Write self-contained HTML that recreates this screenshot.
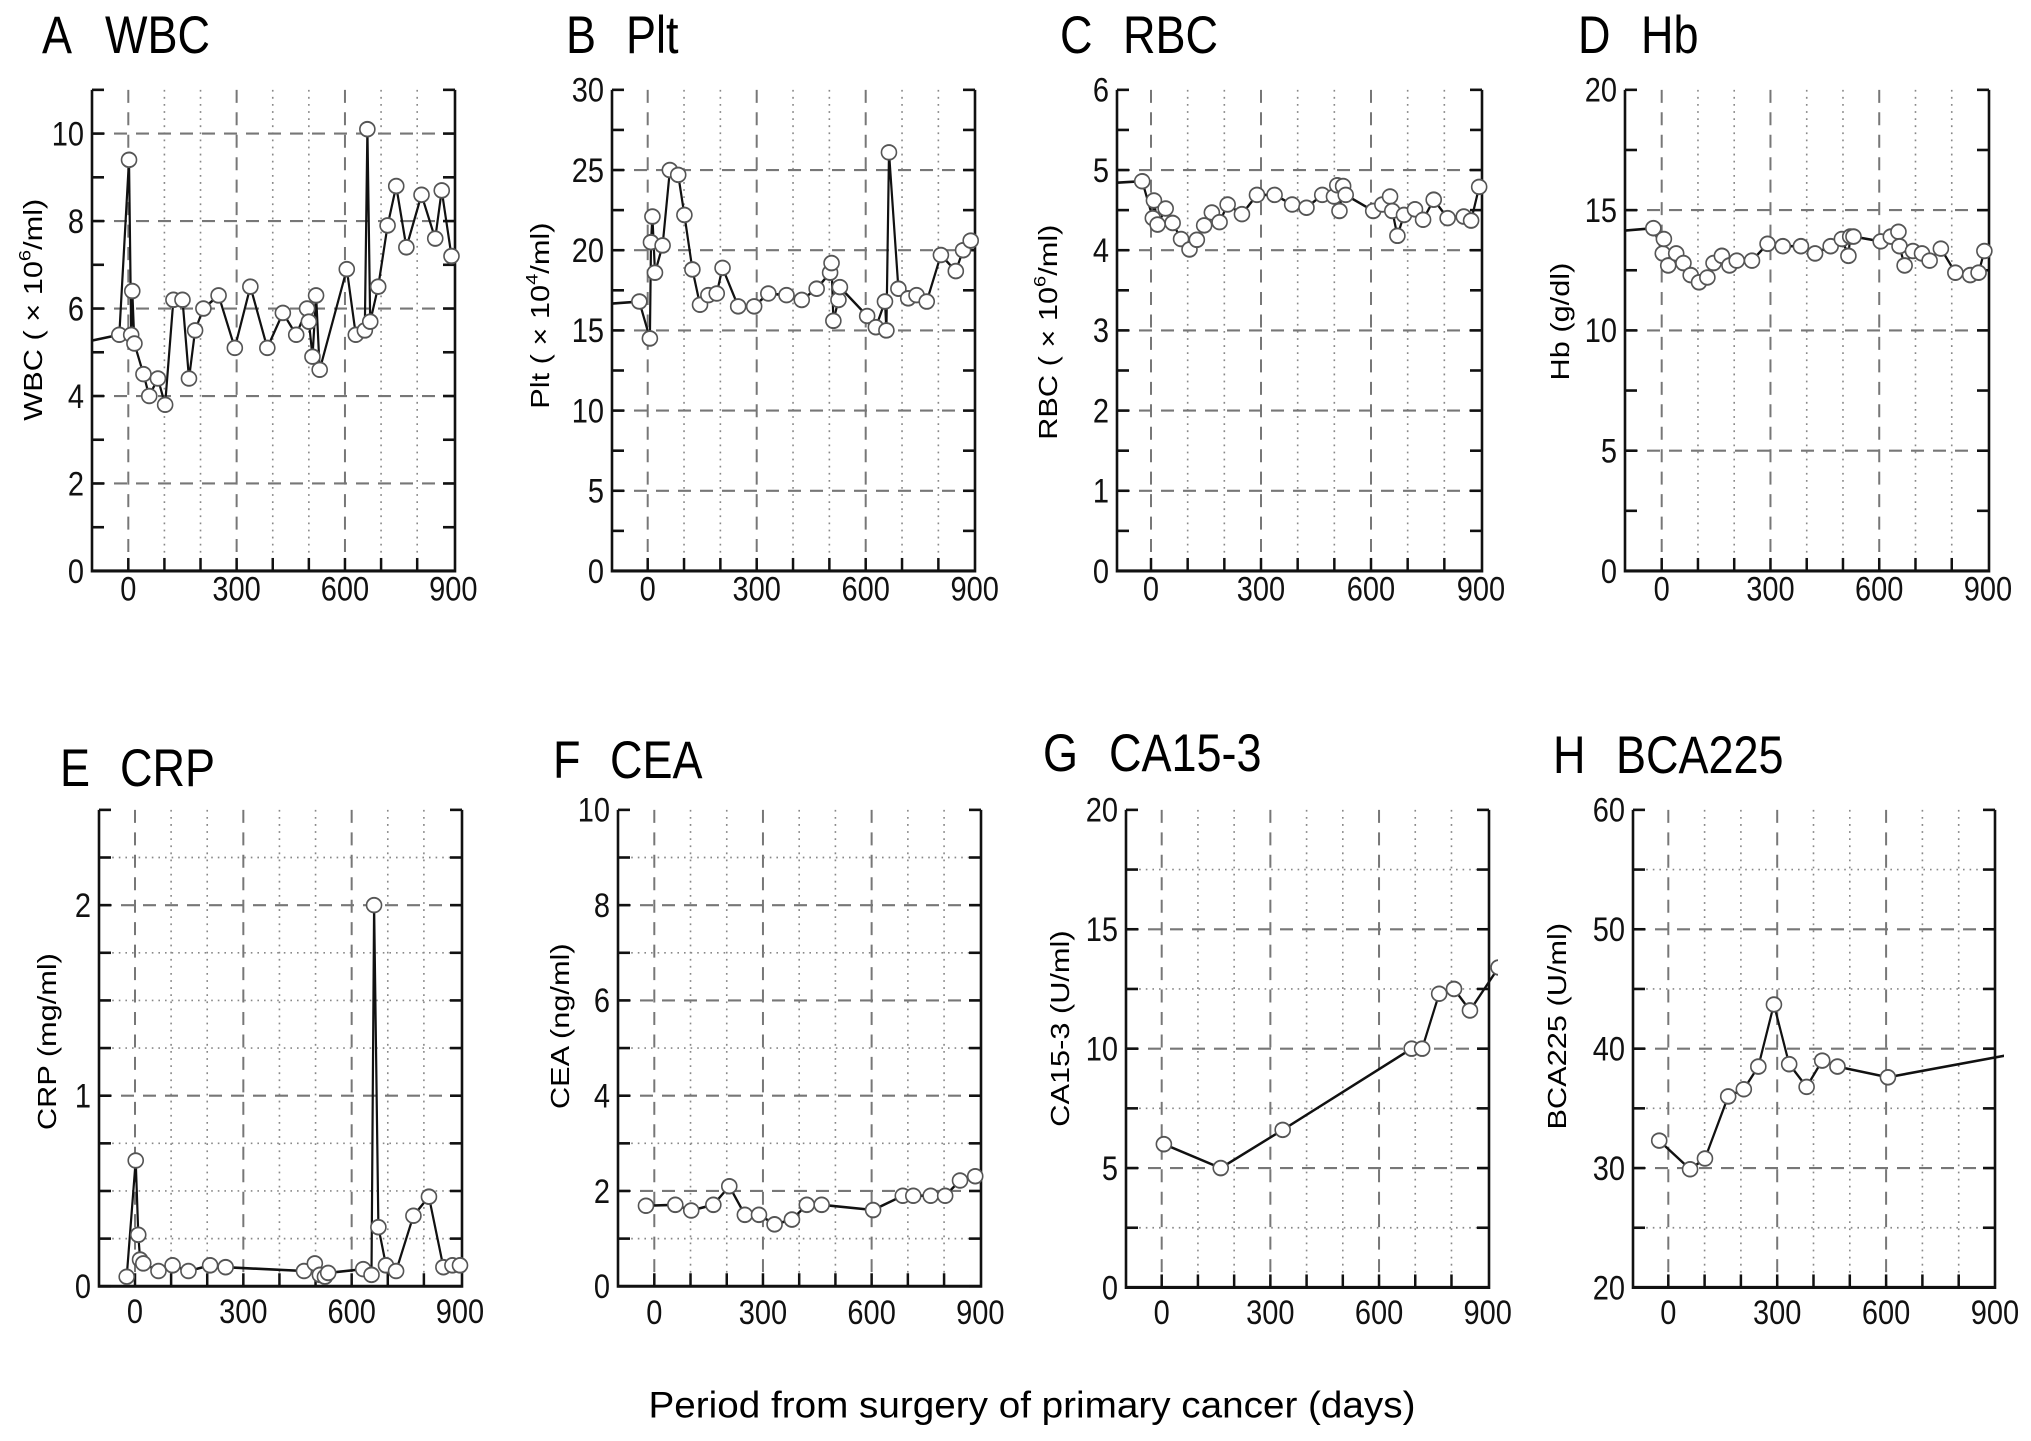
<!DOCTYPE html>
<html><head><meta charset="utf-8"><style>
html,body{margin:0;padding:0;background:#fff;}
svg{display:block;font-family:"Liberation Sans",Arial,sans-serif;}
</style></head><body>
<svg id="fig" width="2031" height="1441" viewBox="0 0 2031 1219" preserveAspectRatio="none" xmlns="http://www.w3.org/2000/svg">
<text x="1032" y="1199" font-size="31" text-anchor="middle" textLength="767" lengthAdjust="spacingAndGlyphs">Period from surgery of primary cancer (days)</text>
</svg>
<script>
// ---- data (days from surgery, values) ----
const wbcDays = [-140,-25,2,8,11,17,42,58,82,102,125,150,168,185,208,250,295,338,385,428,465,495,500,510,520,530,605,630,655,662,670,692,718,742,770,812,850,868,895];
const wbcValues = [5.2,5.4,9.4,5.4,6.4,5.2,4.5,4.0,4.4,3.8,6.2,6.2,4.4,5.5,6.0,6.3,5.1,6.5,5.1,5.9,5.4,6.0,5.7,4.9,6.3,4.6,6.9,5.4,5.5,10.1,5.7,6.5,7.9,8.8,7.4,8.6,7.6,8.7,7.2];
const pltDays = [-140,-23,6,9,13,20,41,61,84,101,123,144,167,190,206,249,293,332,382,424,465,502,506,511,525,529,604,628,653,657,664,690,717,740,768,807,848,868,889];
const pltValues = [16.6,16.8,14.5,20.5,22.1,18.6,20.3,25.0,24.7,22.2,18.8,16.6,17.2,17.3,18.9,16.5,16.5,17.3,17.2,16.9,17.6,18.6,19.2,15.6,16.9,17.7,15.9,15.2,16.8,15.0,26.1,17.6,17.0,17.2,16.8,19.7,18.7,20.0,20.6];
const rbcDays = [-140,-24,5,8,18,40,59,82,105,125,145,166,187,209,248,289,337,385,424,467,499,508,514,524,531,606,631,652,658,672,690,720,742,771,809,853,873,895];
const rbcValues = [4.83,4.86,4.40,4.62,4.32,4.52,4.34,4.14,4.01,4.13,4.31,4.47,4.35,4.57,4.45,4.69,4.69,4.57,4.53,4.69,4.67,4.81,4.49,4.80,4.69,4.49,4.57,4.67,4.49,4.18,4.44,4.51,4.38,4.63,4.40,4.42,4.37,4.79];
const hbDays = [-140,-23,3,6,18,40,60,80,103,126,143,166,187,207,249,292,334,384,423,466,497,515,520,529,604,632,653,656,670,693,718,739,770,810,851,874,890];
const hbValues = [14.1,14.25,13.2,13.8,12.7,13.2,12.8,12.3,12.0,12.2,12.8,13.1,12.7,12.9,12.9,13.6,13.5,13.5,13.2,13.5,13.8,13.1,13.9,13.9,13.7,13.9,14.1,13.5,12.7,13.3,13.2,12.9,13.4,12.4,12.3,12.4,13.3];
const crpDays = [-23,2,9,14,23,65,104,148,208,251,468,498,512,526,535,632,655,662,674,695,723,771,814,854,879,900];
const crpValues = [0.05,0.66,0.27,0.14,0.12,0.08,0.11,0.08,0.11,0.10,0.08,0.12,0.06,0.05,0.07,0.09,0.06,2.0,0.31,0.11,0.08,0.37,0.47,0.10,0.11,0.11];
const ceaDays = [-23,58,102,163,207,250,289,332,380,421,462,604,686,715,763,803,844,886];
const ceaValues = [1.69,1.71,1.59,1.71,2.10,1.50,1.50,1.30,1.40,1.71,1.71,1.60,1.90,1.90,1.90,1.90,2.22,2.31];
const caDays = [6,163,334,690,719,766,807,851,930];
const caValues = [6.0,5.0,6.6,10.0,10.0,12.3,12.5,11.6,13.4];
const bcaDays = [-25,60,101,165,208,248,291,333,381,424,466,605,960];
const bcaValues = [32.3,29.9,30.8,36.0,36.6,38.5,43.7,38.7,36.8,39.0,38.5,37.6,39.6];
// ---- tick labels ----
const xTickLabels = [0,300,600,900];
const wbcTicks = [0,2,4,6,8,10];
const pltTicks = [0,5,10,15,20,25,30];
const rbcTicks = [0,1,2,3,4,5,6];
const hbTicks = [0,5,10,15,20];
const crpTicks = [0,1,2];
const ceaTicks = [0,2,4,6,8,10];
const caTicks = [0,5,10,15,20];
const bcaTicks = [20,30,40,50,60];

const NS = "http://www.w3.org/2000/svg";
const svg = document.getElementById('fig');
function mk(tag, attrs, parent){
  const e = document.createElementNS(NS, tag);
  for (const k in attrs) e.setAttribute(k, attrs[k]);
  (parent||svg).appendChild(e);
  return e;
}

const R2 = 609.1;
const panels = [
 {id:'wbc', letter:'A', name:'WBC', lx:42, nx:105, ty:45, left:92, right:455, top:76, bottom:483, x0:128.3, x900:453.3, ymin:0, ymax:11, minor:1, dotted:false, labels:wbcTicks, days:wbcDays, vals:wbcValues, tcx:34, tcy:262, title:['WBC ( × 10','6','/ml)'], xly:508},
 {id:'plt', letter:'B', name:'Plt', lx:566, nx:626, ty:45, left:612, right:975, top:76, bottom:483, x0:647.7, x900:974.7, ymin:0, ymax:30, minor:2.5, dotted:false, labels:pltTicks, days:pltDays, vals:pltValues, tcx:541, tcy:267, title:['Plt ( × 10','4','/ml)'], xly:508},
 {id:'rbc', letter:'C', name:'RBC', lx:1060, nx:1123, ty:45, left:1117, right:1482, top:76, bottom:483, x0:1151, x900:1481, ymin:0, ymax:6, minor:0.5, dotted:false, labels:rbcTicks, days:rbcDays, vals:rbcValues, tcx:1049, tcy:281, title:['RBC ( × 10','6','/ml)'], xly:508},
 {id:'hb', letter:'D', name:'Hb', lx:1578, nx:1641, ty:45, left:1625, right:1989, top:76, bottom:483, x0:1661.7, x900:1988, ymin:0, ymax:20, minor:2.5, dotted:false, labels:hbTicks, days:hbDays, vals:hbValues, tcx:1561, tcy:272, title:['Hb (g/dl)'], xly:508},
 {id:'crp', letter:'E', name:'CRP', lx:60, nx:120, ty:R2+56, left:99, right:462, top:R2+76, bottom:R2+479, x0:135, x900:460, ymin:0, ymax:2.5, minor:0.25, dotted:true, labels:crpTicks, days:crpDays, vals:crpValues, tcx:48, tcy:R2+272, title:['CRP (mg/ml)'], xly:R2+510},
 {id:'cea', letter:'F', name:'CEA', lx:553, nx:610, ty:R2+49, left:618, right:981, top:R2+76, bottom:R2+479, x0:654.3, x900:980.3, ymin:0, ymax:10, minor:1, dotted:true, labels:ceaTicks, days:ceaDays, vals:ceaValues, tcx:561, tcy:R2+259, title:['CEA (ng/ml)'], xly:R2+511},
 {id:'ca153', letter:'G', name:'CA15-3', lx:1043, nx:1109, ty:R2+43, left:1126, right:1489, top:R2+76, bottom:R2+480, x0:1161.7, x900:1487.7, ymin:0, ymax:20, minor:2.5, dotted:true, labels:caTicks, days:caDays, vals:caValues, tcx:1061, tcy:R2+261, title:['CA15-3 (U/ml)'], xly:R2+511},
 {id:'bca225', letter:'H', name:'BCA225', lx:1553, nx:1616, ty:R2+45, left:1633, right:1995, top:R2+76, bottom:R2+480, x0:1668.3, x900:1995, ymin:20, ymax:60, minor:5, dotted:true, labels:bcaTicks, days:bcaDays, vals:bcaValues, tcx:1558, tcy:R2+259, title:['BCA225 (U/ml)'], xly:R2+511}
];

panels.forEach(p => {
  const g = mk('g', {});
  
  
  const sx = d => p.x0 + d * (p.x900 - p.x0) / 900;
  const sy = v => p.bottom - (v - p.ymin) / (p.ymax - p.ymin) * (p.bottom - p.top);

  const t1 = mk('text', {x:p.lx, y:p.ty, 'font-size':45}, g);
  t1.textContent = p.letter;
  
  
  const t2 = mk('text', {x:p.nx, y:p.ty, 'font-size':45}, g);
  t2.textContent = p.name;
  
  

  for (let d = 0; d <= 800; d += 100) {
    const x = sx(d);
    const dashed = d % 300 === 0;
    const l = mk('line', {x1:x, x2:x, y1:p.top, y2:p.bottom, stroke: dashed ? '#777' : '#888', 'stroke-width': dashed ? 2 : 1.6, 'stroke-dasharray': dashed ? '11 8' : '1.5 4.5'}, g);
    
    
    const tk = mk('line', {x1:x, x2:x, y1:p.bottom, y2:p.bottom - 11, stroke:'#111', 'stroke-width':2.5}, g);
    
    
  }
  const n = Math.round((p.ymax - p.ymin) / p.minor);
  for (let i = 0; i <= n; i++) {
    const v = p.ymin + i * p.minor;
    const y = sy(v);
    const isLabel = p.labels.some(l => Math.abs(l - v) < 1e-6);
    if (i > 0 && i < n && (isLabel || p.dotted)) {
      const l = mk('line', {x1:p.left, x2:p.right, y1:y, y2:y, stroke: isLabel ? '#777' : '#888', 'stroke-width': isLabel ? 1.8 : 1.4, 'stroke-dasharray': isLabel ? '13 9' : '1.6 5'}, g);
      
      
    }
    const tl = mk('line', {x1:p.left, x2:p.left + 12, y1:y, y2:y, stroke:'#111', 'stroke-width':2.2}, g);
    
    
    const tr = mk('line', {x1:p.right, x2:p.right - 12, y1:y, y2:y, stroke:'#111', 'stroke-width':2.2}, g);
    
    
  }
  p.labels.forEach(v => {
    const t = mk('text', {x:p.left - 8, y:sy(v) + 10, 'font-size':29, 'text-anchor':'end', fill:'#111'}, g);
    t.textContent = v;
    
    
  });
  xTickLabels.forEach(d => {
    const t = mk('text', {x:sx(d), y:p.xly, 'font-size':29, 'text-anchor':'middle', fill:'#111'}, g);
    t.textContent = d;
    
    
  });
  const ax = mk('path', {d:`M${p.left},${p.top}V${p.bottom}H${p.right}V${p.top}`, fill:'none', stroke:'#111', 'stroke-width':2.6}, g);
  
  
  const yt = mk('text', {x:p.tcx, y:p.tcy, 'font-size':26, 'text-anchor':'middle', 'dominant-baseline':'central', transform:`rotate(-90 ${p.tcx} ${p.tcy})`}, g);
  
  
  if (p.title.length === 3) {
    const a = mk('tspan', {}, yt); a.textContent = p.title[0];
    const b = mk('tspan', {'font-size':17, dy:-10}, yt); b.textContent = p.title[1];
    const c = mk('tspan', {dy:10}, yt); c.textContent = p.title[2];
  } else yt.textContent = p.title[0];

  const cp = mk('clipPath', {id:'clip-' + p.id}, g);
  mk('rect', {x:p.left, y:p.top - 10, width:p.right - p.left + 9, height:p.bottom - p.top + 10}, cp);
  const dg = mk('g', {'clip-path':`url(#clip-${p.id})`}, g);
  
  
  const pts = p.days.map((d, i) => sx(d).toFixed(1) + ',' + sy(p.vals[i]).toFixed(1)).join(' ');
  const pl = mk('polyline', {points:pts, fill:'none', stroke:'#111', 'stroke-width':2.2, 'stroke-linejoin':'round'}, dg);
  
  
  p.days.forEach((d, i) => {
    const c = mk('ellipse', {cx:sx(d), cy:sy(p.vals[i]), rx:7.5, ry:6.2, fill:'#fff', stroke:'#555', 'stroke-width':1.6}, dg);
    
    
  });
});
</script>
</body></html>
